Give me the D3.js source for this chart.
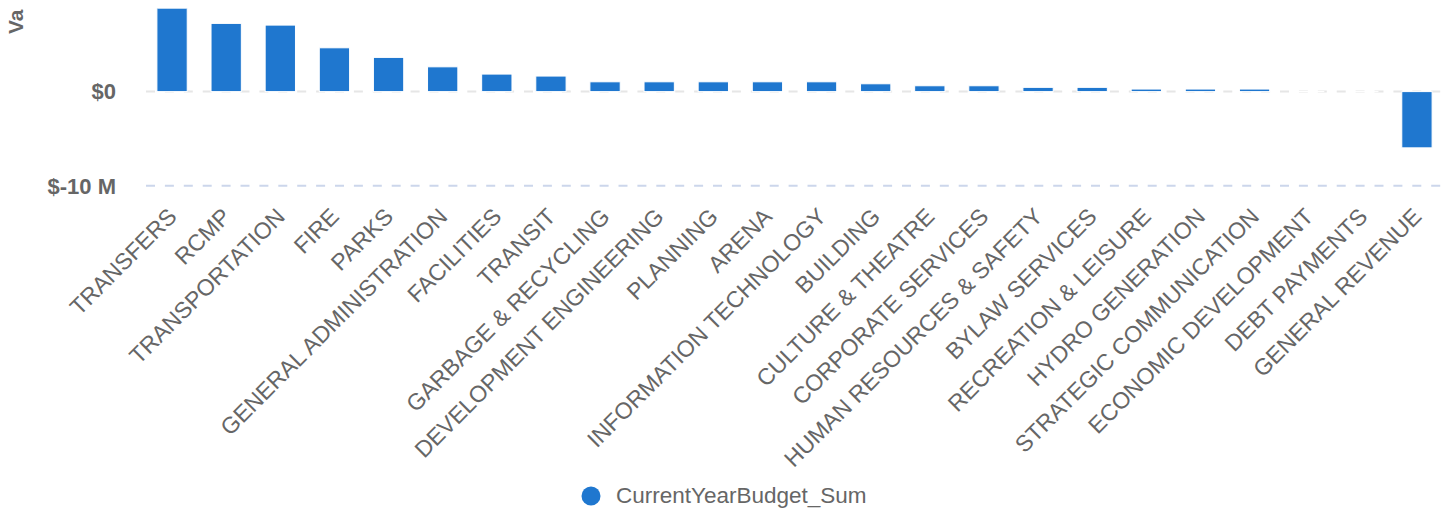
<!DOCTYPE html>
<html>
<head>
<meta charset="utf-8">
<script src="https://cdn.jsdelivr.net/npm/d3@7"></script>
<style>
  html, body { margin: 0; padding: 0; background: #fff; }
  svg { display: block; font-family: "Liberation Sans", Arial, sans-serif; }
</style>
</head>
<body>
<svg id="chart" width="1448" height="511"></svg>
<script>
// Department budget totals for the current year
const departments = [
  "TRANSFERS", "RCMP", "TRANSPORTATION", "FIRE", "PARKS",
  "GENERAL ADMINISTRATION", "FACILITIES", "TRANSIT", "GARBAGE & RECYCLING",
  "DEVELOPMENT ENGINEERING", "PLANNING", "ARENA", "INFORMATION TECHNOLOGY",
  "BUILDING", "CULTURE & THEATRE", "CORPORATE SERVICES",
  "HUMAN RESOURCES & SAFETY", "BYLAW SERVICES", "RECREATION & LEISURE",
  "HYDRO GENERATION", "STRATEGIC COMMUNICATION", "ECONOMIC DEVELOPMENT",
  "DEBT PAYMENTS", "GENERAL REVENUE"
];
const budgetSum = [
  8860000, 7240000, 7060000, 4650000, 3630000,
  2630000, 1860000, 1650000, 1040000,
  1040000, 1040000, 1040000, 1040000,
  830000, 620000, 620000,
  450000, 450000, 270000,
  270000, 270000, 8000,
  5000, -5970000
];
const yTicks = [-10000000, 0, 10000000];
const seriesName = "CurrentYearBudget_Sum";
const axisTitle = "Value";

const svg = d3.select("#chart");
const textColor = "#666666";
const barColor = "#1f77cf";

// visible drawing area
svg.append("defs").append("clipPath").attr("id", "view")
  .append("rect").attr("x", 0).attr("y", 8.5).attr("width", 1448).attr("height", 503);
const g = svg.append("g").attr("clip-path", "url(#view)");

const x = d3.scaleBand()
  .domain(departments)
  .range([145, 1444])
  .paddingInner(0.44)
  .paddingOuter(0.22);

const y = d3.scaleLinear()
  .domain([-10000000, 10000000])
  .range([185.8, -2.6]);

const fmt = v => v === 0 ? "$0" : "$" + (v / 1e6) + " M";

// grid lines
g.selectAll("line.grid")
  .data(yTicks)
  .join("line")
  .attr("class", "grid")
  .attr("x1", 146).attr("x2", 1448)
  .attr("y1", d => y(d)).attr("y2", d => y(d))
  .attr("stroke", d => d === -10000000 ? "#ccd6eb" : "#e6e6e6")
  .attr("stroke-width", 2)
  .attr("stroke-dasharray", "9,9.9");

// y tick labels
g.selectAll("text.ytick")
  .data(yTicks)
  .join("text")
  .attr("class", "ytick")
  .attr("x", 116)
  .attr("y", d => y(d))
  .attr("dy", "0.35em")
  .attr("text-anchor", "end")
  .attr("font-size", 22)
  .attr("font-weight", "bold")
  .attr("fill", textColor)
  .text(fmt);

// y axis title
g.append("text")
  .attr("transform", "translate(23,34) rotate(-90)")
  .attr("text-anchor", "start")
  .attr("font-size", 21)
  .attr("font-weight", "bold")
  .attr("fill", textColor)
  .text(axisTitle);

// bars
g.selectAll("rect.bar")
  .data(departments.map((d, i) => ({ name: d, value: budgetSum[i] })))
  .join("rect")
  .attr("class", "bar")
  .attr("x", d => x(d.name))
  .attr("width", x.bandwidth())
  .attr("y", d => Math.min(y(d.value), y(0)))
  .attr("height", d => Math.abs(y(d.value) - y(0)))
  .attr("fill", barColor)
  .attr("stroke", "#ffffff")
  .attr("stroke-width", 1);

// category labels
g.selectAll("text.xlabel")
  .data(departments)
  .join("text")
  .attr("class", "xlabel")
  .attr("transform", d => `translate(${x(d) + x.bandwidth() / 2 + 6},218) rotate(-45)`)
  .attr("text-anchor", "end")
  .attr("font-size", 23)
  .attr("fill", textColor)
  .text(d => d);

// legend
const legend = g.append("g");
legend.append("circle")
  .attr("cx", 591).attr("cy", 496).attr("r", 9.5)
  .attr("fill", barColor);
legend.append("text")
  .attr("x", 616).attr("y", 503)
  .attr("font-size", 22.5)
  .attr("fill", textColor)
  .text(seriesName);
</script>
</body>
</html>
